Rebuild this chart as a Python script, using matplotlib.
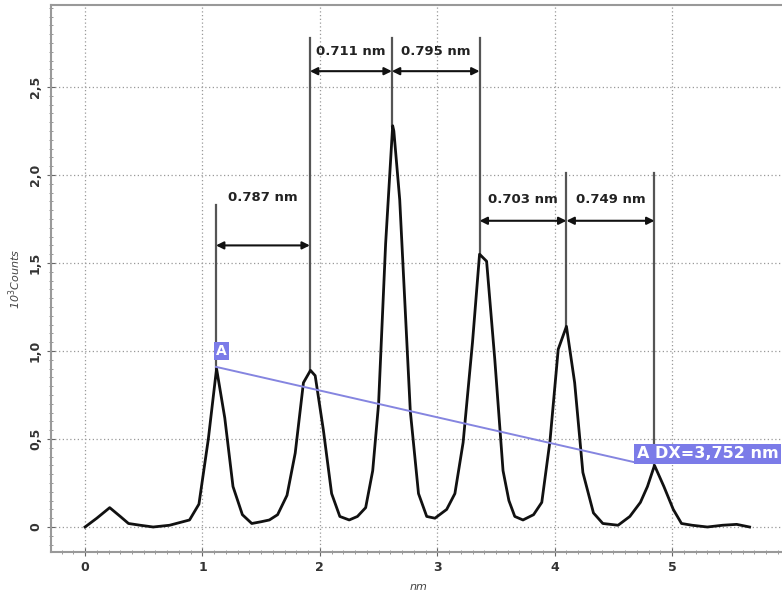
import matplotlib.pyplot as plt
from matplotlib.ticker import MultipleLocator, FixedLocator, FuncFormatter

# profile curve (nm, 10^3 counts)
x_nm = [0.00, 0.10, 0.21, 0.30, 0.37, 0.47, 0.58, 0.72, 0.89, 0.97, 1.05, 1.12,
        1.19, 1.26, 1.34, 1.42, 1.50, 1.57, 1.64, 1.72, 1.79, 1.86, 1.92, 1.96,
        2.03, 2.10, 2.17, 2.25, 2.32, 2.39, 2.45, 2.50, 2.56, 2.62, 2.63, 2.68,
        2.77, 2.84, 2.91, 2.98, 3.08, 3.15, 3.22, 3.30, 3.36, 3.42, 3.49, 3.56,
        3.61, 3.66, 3.73, 3.82, 3.89, 3.96, 4.03, 4.10, 4.17, 4.24, 4.33, 4.41,
        4.54, 4.64, 4.73, 4.79, 4.85, 4.93, 5.01, 5.08, 5.17, 5.30, 5.43, 5.55, 5.66]
counts = [0.00, 0.05, 0.11, 0.06, 0.02, 0.01, 0.00, 0.01, 0.04, 0.13, 0.50, 0.90,
          0.62, 0.23, 0.07, 0.02, 0.03, 0.04, 0.07, 0.18, 0.42, 0.82, 0.89, 0.86,
          0.55, 0.19, 0.06, 0.04, 0.06, 0.11, 0.32, 0.70, 1.61, 2.28, 2.25, 1.86,
          0.66, 0.19, 0.06, 0.05, 0.10, 0.19, 0.48, 1.05, 1.55, 1.51, 0.95, 0.32,
          0.15, 0.06, 0.04, 0.07, 0.14, 0.49, 1.01, 1.14, 0.82, 0.31, 0.08, 0.02,
          0.01, 0.06, 0.14, 0.23, 0.35, 0.23, 0.10, 0.02, 0.01, 0.00, 0.01, 0.015, 0.00]

# peak markers
peak_x = [1.115, 1.915, 2.613, 3.36, 4.10, 4.85]
peak_y = [0.90, 0.89, 2.28, 1.55, 1.14, 0.35]
marker_top = [1.83, 2.78, 2.78, 2.78, 2.01, 2.01]

# distance labels between neighbouring markers
dist_labels = ["0.787 nm", "0.711 nm", "0.795 nm", "0.703 nm", "0.749 nm"]
arrow_y = [1.60, 2.59, 2.59, 1.74, 1.74]
text_y = [1.87, 2.70, 2.70, 1.86, 1.86]

# cursor A
cursor_start = (1.115, 0.91)
cursor_end = (4.70, 0.365)
cursor_label = "A DX=3,752 nm"

blue = "#7b7be8"

fig = plt.figure(figsize=(7.82, 5.94), dpi=100)
ax = fig.add_axes([51 / 782, 42 / 594, 735 / 782, 547 / 594])

ax.plot(x_nm, counts, color="#111111", lw=2.0, zorder=4)

# vertical marker lines
for px, py, top in zip(peak_x, peak_y, marker_top):
    ax.plot([px, px], [py, top], color="#555555", lw=1.6, zorder=3)

# distance arrows and labels
for i, lab in enumerate(dist_labels):
    x0, x1 = peak_x[i], peak_x[i + 1]
    ax.annotate("", xy=(x1, arrow_y[i]), xytext=(x0, arrow_y[i]),
                arrowprops=dict(arrowstyle="<|-|>", color="#111111", lw=1.5,
                                mutation_scale=11, shrinkA=0, shrinkB=0), zorder=5)
    ax.text((x0 + x1) / 2, text_y[i], lab, ha="center", va="center",
            fontsize=9.5, fontweight="bold", color="#222222", zorder=5)

# cursor line and labels
ax.plot([cursor_start[0], cursor_end[0]], [cursor_start[1], cursor_end[1]],
        color="#8585e0", lw=1.4, zorder=5)
ax.text(cursor_start[0], 0.96, "A", ha="left", va="bottom", fontsize=10,
        fontweight="bold", color="white", zorder=6,
        bbox=dict(boxstyle="square,pad=0.15", fc=blue, ec="none"))
ax.text(cursor_end[0], 0.415, cursor_label, ha="left", va="center", fontsize=11.5,
        fontweight="bold", color="white", zorder=6, clip_on=False,
        bbox=dict(boxstyle="square,pad=0.15", fc=blue, ec="none"))

ax.set_xlim(-0.29, 5.97)
ax.set_ylim(-0.142, 2.966)

ax.xaxis.set_major_locator(MultipleLocator(1))
ax.xaxis.set_minor_locator(MultipleLocator(0.1))
ax.yaxis.set_major_locator(FixedLocator([0, 0.5, 1.0, 1.5, 2.0, 2.5]))
ax.yaxis.set_minor_locator(MultipleLocator(0.05))
ax.yaxis.set_major_formatter(FuncFormatter(
    lambda v, p: "0" if v == 0 else f"{v:.1f}".replace(".", ",")))

ax.tick_params(axis="both", which="major", direction="inout", length=6,
               color="#666666", labelsize=9, labelcolor="#333333")
ax.tick_params(axis="both", which="minor", direction="inout", length=3,
               color="#888888")
for lab in ax.get_xticklabels() + ax.get_yticklabels():
    lab.set_fontweight("bold")
for lab in ax.get_yticklabels():
    lab.set_rotation(90)
    lab.set_va("center")

ax.grid(True, which="major", linestyle=(0, (1, 2)), color="#999999", lw=0.9)
for s in ax.spines.values():
    s.set_color("#999999")
    s.set_linewidth(1.5)

ax.set_xlabel("nm", fontsize=8, style="italic", color="#444444", labelpad=6)
ax.set_ylabel("10$^3$Counts", fontsize=8, style="italic", color="#444444",
              labelpad=4)

fig.savefig("out.png", dpi=100)
